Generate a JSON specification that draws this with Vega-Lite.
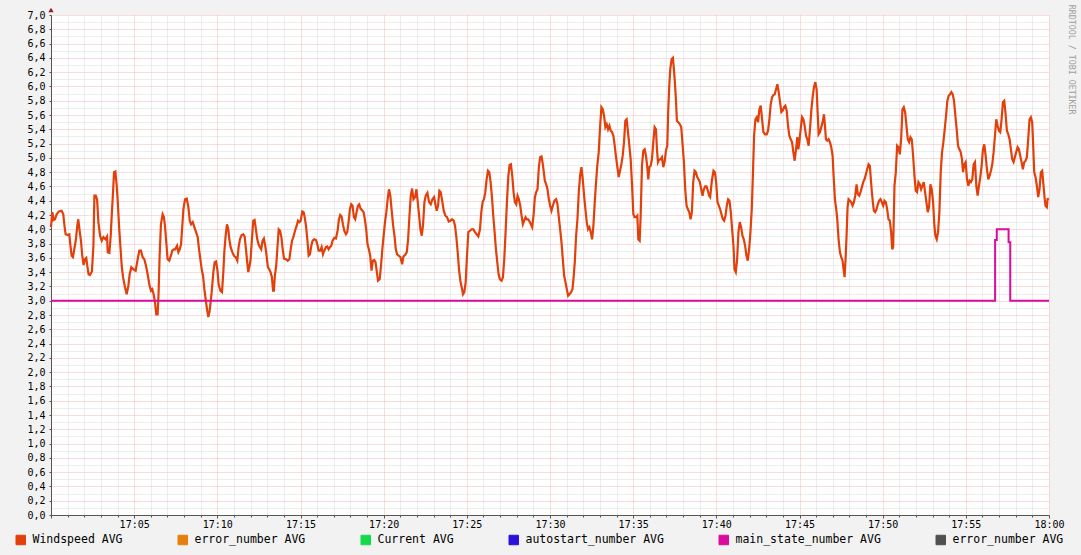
{
"$schema":"https://vega.github.io/schema/vega-lite/v6.json",
"width":998,"height":500,
"autosize":{"type":"none"},
"padding":{"left":51,"top":15,"right":32,"bottom":40},
"background":"#F2F2F2",
"config":{"view":{"fill":"white","stroke":null}},
"title":{"text":"RRDTOOL / TOBI OETIKER","orient":"right","anchor":"start","angle":90,"font":"DejaVu Sans Mono","fontSize":8.3,"fontWeight":"normal","color":"#A0A0A0","offset":4,"dx":-3},
"datasets":{
"wind":[
{"t":0,"v":4.03},{"t":0.08,"v":4.24},{"t":0.16,"v":4.13},{"t":0.24,"v":4.14},{"t":0.34,"v":4.21},{"t":0.48,"v":4.25},{"t":0.64,"v":4.26},{"t":0.74,"v":4.21},{"t":0.8,"v":4.07},{"t":0.88,"v":3.93},{"t":1.0,"v":3.92},{"t":1.1,"v":3.93},{"t":1.16,"v":3.79},{"t":1.24,"v":3.63},{"t":1.32,"v":3.61},{"t":1.4,"v":3.72},{"t":1.5,"v":3.86},{"t":1.58,"v":4.05},{"t":1.64,"v":4.14},{"t":1.72,"v":3.98},{"t":1.8,"v":3.84},{"t":1.88,"v":3.63},{"t":1.96,"v":3.5},{"t":2.04,"v":3.58},{"t":2.12,"v":3.6},{"t":2.18,"v":3.49},{"t":2.26,"v":3.37},{"t":2.34,"v":3.36},{"t":2.46,"v":3.41},{"t":2.55,"v":3.77},{"t":2.61,"v":4.47},{"t":2.69,"v":4.47},{"t":2.77,"v":4.42},{"t":2.85,"v":4.1},{"t":2.95,"v":3.91},{"t":3.05,"v":3.84},{"t":3.15,"v":3.89},{"t":3.27,"v":3.86},{"t":3.37,"v":3.9},{"t":3.41,"v":3.68},{"t":3.51,"v":3.67},{"t":3.59,"v":3.91},{"t":3.65,"v":4.19},{"t":3.73,"v":4.52},{"t":3.79,"v":4.8},{"t":3.87,"v":4.81},{"t":3.95,"v":4.61},{"t":4.01,"v":4.4},{"t":4.09,"v":4.05},{"t":4.17,"v":3.77},{"t":4.25,"v":3.49},{"t":4.33,"v":3.33},{"t":4.45,"v":3.19},{"t":4.55,"v":3.09},{"t":4.65,"v":3.21},{"t":4.73,"v":3.37},{"t":4.83,"v":3.47},{"t":4.95,"v":3.44},{"t":5.09,"v":3.42},{"t":5.21,"v":3.58},{"t":5.31,"v":3.7},{"t":5.41,"v":3.7},{"t":5.51,"v":3.61},{"t":5.61,"v":3.58},{"t":5.71,"v":3.49},{"t":5.81,"v":3.37},{"t":5.91,"v":3.23},{"t":6.01,"v":3.14},{"t":6.09,"v":3.16},{"t":6.17,"v":3.09},{"t":6.25,"v":2.98},{"t":6.33,"v":2.81},{"t":6.41,"v":2.81},{"t":6.47,"v":3.12},{"t":6.53,"v":3.63},{"t":6.61,"v":4.07},{"t":6.71,"v":4.21},{"t":6.79,"v":4.17},{"t":6.85,"v":4.05},{"t":6.93,"v":3.82},{"t":7.01,"v":3.58},{"t":7.11,"v":3.56},{"t":7.21,"v":3.63},{"t":7.29,"v":3.7},{"t":7.39,"v":3.72},{"t":7.47,"v":3.72},{"t":7.58,"v":3.77},{"t":7.66,"v":3.68},{"t":7.74,"v":3.72},{"t":7.82,"v":3.79},{"t":7.88,"v":4.0},{"t":7.96,"v":4.28},{"t":8.06,"v":4.42},{"t":8.16,"v":4.43},{"t":8.26,"v":4.31},{"t":8.34,"v":4.12},{"t":8.42,"v":4.07},{"t":8.52,"v":4.1},{"t":8.62,"v":4.03},{"t":8.72,"v":3.96},{"t":8.82,"v":3.89},{"t":8.9,"v":3.72},{"t":8.98,"v":3.58},{"t":9.06,"v":3.44},{"t":9.14,"v":3.35},{"t":9.22,"v":3.16},{"t":9.3,"v":3.02},{"t":9.38,"v":2.88},{"t":9.46,"v":2.77},{"t":9.54,"v":2.86},
{"t":9.66,"v":3.12},{"t":9.76,"v":3.4},{"t":9.84,"v":3.54},{"t":9.92,"v":3.55},{"t":10.0,"v":3.44},{"t":10.08,"v":3.23},{"t":10.18,"v":3.14},{"t":10.28,"v":3.12},{"t":10.36,"v":3.4},{"t":10.42,"v":3.68},{"t":10.5,"v":3.91},{"t":10.58,"v":4.07},{"t":10.66,"v":4.0},{"t":10.72,"v":3.86},{"t":10.8,"v":3.75},{"t":10.9,"v":3.68},{"t":11.0,"v":3.63},{"t":11.1,"v":3.61},{"t":11.2,"v":3.56},{"t":11.28,"v":3.75},{"t":11.36,"v":3.86},{"t":11.46,"v":3.92},{"t":11.56,"v":3.93},{"t":11.64,"v":3.9},{"t":11.7,"v":3.77},{"t":11.78,"v":3.58},{"t":11.86,"v":3.4},{"t":11.94,"v":3.49},{"t":12.0,"v":3.58},{"t":12.08,"v":3.86},{"t":12.16,"v":4.12},{"t":12.24,"v":4.13},{"t":12.32,"v":4.0},{"t":12.4,"v":3.86},{"t":12.48,"v":3.79},{"t":12.56,"v":3.75},{"t":12.64,"v":3.72},{"t":12.72,"v":3.84},{"t":12.8,"v":3.87},{"t":12.88,"v":3.77},{"t":12.96,"v":3.63},{"t":13.04,"v":3.47},{"t":13.12,"v":3.44},{"t":13.2,"v":3.4},{"t":13.28,"v":3.33},{"t":13.35,"v":3.14},{"t":13.4,"v":3.14},{"t":13.46,"v":3.35},{"t":13.54,"v":3.49},{"t":13.62,"v":3.77},{"t":13.69,"v":4.0},{"t":13.77,"v":3.98},{"t":13.85,"v":3.89},{"t":13.93,"v":3.72},{"t":14.01,"v":3.59},{"t":14.13,"v":3.58},{"t":14.23,"v":3.56},{"t":14.33,"v":3.58},{"t":14.41,"v":3.72},{"t":14.49,"v":3.84},{"t":14.57,"v":3.89},{"t":14.67,"v":3.98},{"t":14.77,"v":4.05},{"t":14.85,"v":4.12},{"t":14.93,"v":4.1},{"t":15.01,"v":4.12},{"t":15.11,"v":4.25},{"t":15.19,"v":4.24},{"t":15.25,"v":4.17},{"t":15.33,"v":4.05},{"t":15.41,"v":3.86},{"t":15.49,"v":3.63},{"t":15.57,"v":3.65},{"t":15.65,"v":3.77},{"t":15.73,"v":3.84},{"t":15.83,"v":3.86},{"t":15.93,"v":3.85},{"t":16.01,"v":3.79},{"t":16.09,"v":3.7},{"t":16.19,"v":3.7},{"t":16.27,"v":3.75},{"t":16.35,"v":3.65},{"t":16.43,"v":3.7},{"t":16.53,"v":3.75},{"t":16.61,"v":3.76},{"t":16.69,"v":3.72},{"t":16.77,"v":3.75},{"t":16.85,"v":3.77},{"t":16.93,"v":3.84},{"t":17.03,"v":3.88},{"t":17.13,"v":3.87},{"t":17.23,"v":3.98},{"t":17.31,"v":4.14},{"t":17.39,"v":4.2},{"t":17.47,"v":4.18},{"t":17.55,"v":4.07},{"t":17.63,"v":3.98},{"t":17.73,"v":3.93},{"t":17.81,"v":3.96},{"t":17.89,"v":4.1},{"t":17.97,"v":4.28},{"t":18.05,"v":4.35},{"t":18.13,"v":4.33},{"t":18.21,"v":4.17},{"t":18.29,"v":4.14},{"t":18.37,"v":4.24},{"t":18.45,"v":4.33},{"t":18.53,"v":4.35},{"t":18.61,"v":4.29},{"t":18.69,"v":4.27},{"t":18.79,"v":4.24},{"t":18.87,"v":4.14},{"t":18.95,"v":4.0},{"t":19.03,"v":3.79},{"t":19.11,"v":3.72},{"t":19.19,"v":3.63},{"t":19.27,"v":3.42},{"t":19.35,"v":3.56},{"t":19.43,"v":3.57},{"t":19.51,"v":3.54},{"t":19.59,"v":3.4},
{"t":19.66,"v":3.28},{"t":19.76,"v":3.3},{"t":19.84,"v":3.49},{"t":19.92,"v":3.72},{"t":20.0,"v":3.91},{"t":20.08,"v":4.1},{"t":20.16,"v":4.24},{"t":20.24,"v":4.42},{"t":20.32,"v":4.56},{"t":20.4,"v":4.47},{"t":20.49,"v":4.24},{"t":20.57,"v":4.05},{"t":20.65,"v":3.91},{"t":20.73,"v":3.72},{"t":20.81,"v":3.65},{"t":20.91,"v":3.63},{"t":21.01,"v":3.61},{"t":21.11,"v":3.51},{"t":21.19,"v":3.62},{"t":21.29,"v":3.64},{"t":21.39,"v":3.68},{"t":21.47,"v":3.86},{"t":21.55,"v":4.19},{"t":21.63,"v":4.47},{"t":21.71,"v":4.57},{"t":21.79,"v":4.42},{"t":21.89,"v":4.45},{"t":21.97,"v":4.56},{"t":22.05,"v":4.38},{"t":22.13,"v":4.19},{"t":22.21,"v":4.0},{"t":22.29,"v":3.91},{"t":22.37,"v":4.07},{"t":22.45,"v":4.38},{"t":22.53,"v":4.47},{"t":22.63,"v":4.51},{"t":22.73,"v":4.38},{"t":22.83,"v":4.35},{"t":22.93,"v":4.42},{"t":23.03,"v":4.45},{"t":23.11,"v":4.35},{"t":23.19,"v":4.26},{"t":23.27,"v":4.33},{"t":23.35,"v":4.54},{"t":23.43,"v":4.52},{"t":23.53,"v":4.38},{"t":23.61,"v":4.26},{"t":23.71,"v":4.19},{"t":23.81,"v":4.17},{"t":23.91,"v":4.11},{"t":24.01,"v":4.12},{"t":24.11,"v":4.14},{"t":24.21,"v":4.12},{"t":24.29,"v":4.05},{"t":24.37,"v":3.89},{"t":24.45,"v":3.68},{"t":24.53,"v":3.44},{"t":24.61,"v":3.28},{"t":24.69,"v":3.19},{"t":24.77,"v":3.09},{"t":24.85,"v":3.12},{"t":24.93,"v":3.26},{"t":25.01,"v":3.63},{"t":25.09,"v":3.96},{"t":25.19,"v":3.98},{"t":25.29,"v":4.0},{"t":25.39,"v":4.0},{"t":25.49,"v":3.96},{"t":25.59,"v":3.93},{"t":25.69,"v":3.9},{"t":25.79,"v":4.0},{"t":25.87,"v":4.24},{"t":25.95,"v":4.38},{"t":26.03,"v":4.42},{"t":26.11,"v":4.52},{"t":26.19,"v":4.7},{"t":26.27,"v":4.82},{"t":26.35,"v":4.8},{"t":26.43,"v":4.66},{"t":26.51,"v":4.45},{"t":26.59,"v":4.19},{"t":26.67,"v":3.96},{"t":26.75,"v":3.72},{"t":26.83,"v":3.54},{"t":26.91,"v":3.37},{"t":26.99,"v":3.3},{"t":27.09,"v":3.28},{"t":27.17,"v":3.33},{"t":27.25,"v":3.58},{"t":27.33,"v":3.96},{"t":27.41,"v":4.38},{"t":27.49,"v":4.73},{"t":27.57,"v":4.9},{"t":27.65,"v":4.91},{"t":27.73,"v":4.75},{"t":27.81,"v":4.52},{"t":27.89,"v":4.38},{"t":27.97,"v":4.35},{"t":28.05,"v":4.47},{"t":28.13,"v":4.42},{"t":28.21,"v":4.33},{"t":28.29,"v":4.19},{"t":28.37,"v":4.07},{"t":28.45,"v":4.12},{"t":28.53,"v":4.17},{"t":28.61,"v":4.14},{"t":28.69,"v":4.14},{"t":28.77,"v":4.11},{"t":28.85,"v":4.07},{"t":28.93,"v":4.03},{"t":29.01,"v":4.19},{"t":29.09,"v":4.45},{"t":29.17,"v":4.52},{"t":29.25,"v":4.56},{"t":29.33,"v":4.87},{"t":29.41,"v":5.01},{"t":29.49,"v":5.02},{"t":29.57,"v":4.91},
{"t":29.69,"v":4.68},{"t":29.77,"v":4.63},{"t":29.85,"v":4.56},{"t":29.93,"v":4.42},{"t":30.01,"v":4.33},{"t":30.09,"v":4.26},{"t":30.17,"v":4.33},{"t":30.27,"v":4.4},{"t":30.37,"v":4.42},{"t":30.45,"v":4.35},{"t":30.53,"v":4.17},{"t":30.61,"v":4.0},{"t":30.69,"v":3.82},{"t":30.77,"v":3.58},{"t":30.85,"v":3.35},{"t":30.93,"v":3.26},{"t":31.01,"v":3.16},{"t":31.09,"v":3.07},{"t":31.17,"v":3.09},{"t":31.27,"v":3.12},{"t":31.35,"v":3.16},{"t":31.41,"v":3.3},{"t":31.49,"v":3.54},{"t":31.57,"v":3.91},{"t":31.65,"v":4.14},{"t":31.73,"v":4.52},{"t":31.81,"v":4.75},{"t":31.89,"v":4.87},{"t":31.97,"v":4.7},{"t":32.05,"v":4.47},{"t":32.13,"v":4.28},{"t":32.21,"v":4.1},{"t":32.29,"v":4.0},{"t":32.37,"v":4.03},{"t":32.45,"v":3.96},{"t":32.53,"v":3.86},{"t":32.61,"v":4.05},{"t":32.69,"v":4.38},{"t":32.77,"v":4.66},{"t":32.85,"v":4.91},{"t":32.93,"v":5.08},{"t":33.01,"v":5.43},{"t":33.09,"v":5.71},{"t":33.17,"v":5.68},{"t":33.25,"v":5.59},{"t":33.33,"v":5.43},{"t":33.41,"v":5.47},{"t":33.49,"v":5.4},{"t":33.57,"v":5.45},{"t":33.65,"v":5.38},{"t":33.73,"v":5.36},{"t":33.81,"v":5.31},{"t":33.89,"v":5.17},{"t":33.97,"v":5.01},{"t":34.05,"v":4.87},{"t":34.13,"v":4.73},{"t":34.21,"v":4.82},{"t":34.29,"v":4.91},{"t":34.37,"v":5.03},{"t":34.45,"v":5.22},{"t":34.53,"v":5.52},{"t":34.61,"v":5.54},{"t":34.69,"v":5.36},{"t":34.77,"v":5.17},{"t":34.85,"v":4.98},{"t":34.93,"v":4.63},{"t":35.01,"v":4.21},{"t":35.09,"v":4.17},{"t":35.17,"v":4.17},{"t":35.25,"v":4.19},{"t":35.31,"v":3.86},{"t":35.39,"v":3.84},{"t":35.45,"v":4.19},{"t":35.53,"v":4.89},{"t":35.61,"v":5.1},{"t":35.69,"v":5.12},{"t":35.77,"v":5.03},{"t":35.85,"v":4.87},{"t":35.91,"v":4.7},{"t":35.97,"v":4.87},{"t":36.05,"v":4.89},{"t":36.13,"v":4.98},{"t":36.21,"v":5.22},{"t":36.29,"v":5.43},{"t":36.37,"v":5.4},{"t":36.43,"v":5.12},{"t":36.49,"v":4.94},{"t":36.57,"v":4.98},{"t":36.65,"v":4.98},{"t":36.73,"v":5.01},{"t":36.81,"v":4.87},{"t":36.89,"v":4.94},{"t":36.97,"v":5.1},{"t":37.05,"v":5.17},{"t":37.11,"v":5.68},{"t":37.17,"v":6.01},{"t":37.23,"v":6.24},{"t":37.31,"v":6.38},{"t":37.39,"v":6.4},{"t":37.45,"v":6.24},{"t":37.51,"v":6.05},{"t":37.57,"v":5.82},{"t":37.63,"v":5.52},{"t":37.71,"v":5.5},{"t":37.81,"v":5.47},{"t":37.89,"v":5.43},{"t":37.97,"v":5.19},{"t":38.05,"v":4.94},{"t":38.13,"v":4.56},{"t":38.21,"v":4.33},{"t":38.29,"v":4.28},{"t":38.37,"v":4.24},{"t":38.45,"v":4.14},{"t":38.53,"v":4.24},{"t":38.61,"v":4.66},{"t":38.69,"v":4.82},{"t":38.77,"v":4.8},{"t":38.85,"v":4.73},{"t":38.93,"v":4.7},{"t":39.01,"v":4.66},{"t":39.09,"v":4.56},{"t":39.17,"v":4.47},{"t":39.25,"v":4.56},{"t":39.33,"v":4.6},{"t":39.41,"v":4.6},{"t":39.49,"v":4.54},{"t":39.57,"v":4.47},
{"t":39.63,"v":4.45},{"t":39.73,"v":4.68},{"t":39.83,"v":4.82},{"t":39.91,"v":4.8},{"t":39.99,"v":4.66},{"t":40.07,"v":4.38},{"t":40.15,"v":4.33},{"t":40.23,"v":4.28},{"t":40.31,"v":4.21},{"t":40.39,"v":4.14},{"t":40.47,"v":4.12},{"t":40.55,"v":4.19},{"t":40.63,"v":4.33},{"t":40.71,"v":4.42},{"t":40.79,"v":4.4},{"t":40.87,"v":4.24},{"t":40.95,"v":4.0},{"t":41.03,"v":3.77},{"t":41.09,"v":3.44},{"t":41.17,"v":3.4},{"t":41.25,"v":3.58},{"t":41.33,"v":3.96},{"t":41.41,"v":4.1},{"t":41.49,"v":4.03},{"t":41.57,"v":3.91},{"t":41.65,"v":3.86},{"t":41.73,"v":3.77},{"t":41.81,"v":3.63},{"t":41.89,"v":3.56},{"t":41.97,"v":3.72},{"t":42.05,"v":3.96},{"t":42.13,"v":4.28},{"t":42.19,"v":4.7},{"t":42.27,"v":5.31},{"t":42.35,"v":5.54},{"t":42.43,"v":5.57},{"t":42.51,"v":5.5},{"t":42.59,"v":5.68},{"t":42.67,"v":5.73},{"t":42.75,"v":5.54},{"t":42.83,"v":5.36},{"t":42.93,"v":5.33},{"t":43.03,"v":5.33},{"t":43.11,"v":5.38},{"t":43.19,"v":5.54},{"t":43.27,"v":5.75},{"t":43.35,"v":5.85},{"t":43.43,"v":5.88},{"t":43.51,"v":5.89},{"t":43.59,"v":5.96},{"t":43.67,"v":6.03},{"t":43.75,"v":5.92},{"t":43.83,"v":5.78},{"t":43.91,"v":5.64},{"t":43.99,"v":5.66},{"t":44.07,"v":5.71},{"t":44.15,"v":5.73},{"t":44.23,"v":5.66},{"t":44.31,"v":5.45},{"t":44.39,"v":5.31},{"t":44.47,"v":5.26},{"t":44.55,"v":5.22},{"t":44.63,"v":5.08},{"t":44.71,"v":4.96},{"t":44.79,"v":5.12},{"t":44.87,"v":5.29},{"t":44.93,"v":5.12},{"t":44.99,"v":5.22},{"t":45.07,"v":5.4},{"t":45.15,"v":5.57},{"t":45.23,"v":5.54},{"t":45.31,"v":5.45},{"t":45.39,"v":5.31},{"t":45.47,"v":5.26},{"t":45.55,"v":5.17},{"t":45.63,"v":5.4},{"t":45.71,"v":5.66},{"t":45.79,"v":5.85},{"t":45.87,"v":5.99},{"t":45.95,"v":6.06},{"t":46.03,"v":5.96},{"t":46.09,"v":5.64},{"t":46.15,"v":5.33},{"t":46.23,"v":5.36},{"t":46.31,"v":5.43},{"t":46.39,"v":5.5},{"t":46.47,"v":5.61},{"t":46.53,"v":5.45},{"t":46.59,"v":5.26},{"t":46.67,"v":5.24},{"t":46.75,"v":5.26},{"t":46.83,"v":5.22},{"t":46.91,"v":5.15},{"t":46.99,"v":5.03},{"t":47.05,"v":4.75},{"t":47.13,"v":4.42},{"t":47.21,"v":4.28},{"t":47.27,"v":4.14},{"t":47.35,"v":3.86},{"t":47.43,"v":3.68},{"t":47.51,"v":3.61},{"t":47.59,"v":3.56},{"t":47.65,"v":3.44},{"t":47.71,"v":3.33},{"t":47.77,"v":3.58},{"t":47.83,"v":3.91},{"t":47.89,"v":4.31},{"t":47.95,"v":4.42},{"t":48.03,"v":4.4},{"t":48.11,"v":4.38},{"t":48.19,"v":4.33},{"t":48.27,"v":4.38},{"t":48.35,"v":4.47},{"t":48.43,"v":4.63},{"t":48.51,"v":4.49},{"t":48.59,"v":4.47},{"t":48.67,"v":4.52},{"t":48.75,"v":4.59},{"t":48.83,"v":4.66},{"t":48.91,"v":4.7},{"t":48.99,"v":4.77},{"t":49.07,"v":4.84},{"t":49.15,"v":4.91},{"t":49.23,"v":4.89},{"t":49.29,"v":4.7},{"t":49.35,"v":4.52},{"t":49.41,"v":4.38},{"t":49.47,"v":4.26},{"t":49.55,"v":4.24},{"t":49.63,"v":4.28},{"t":49.71,"v":4.35},{"t":49.79,"v":4.4},{"t":49.87,"v":4.42},{"t":49.95,"v":4.38},{"t":50.03,"v":4.33},{"t":50.11,"v":4.4},{"t":50.19,"v":4.38},{"t":50.27,"v":4.28},{"t":50.35,"v":4.14},{"t":50.43,"v":4.12},{"t":50.51,"v":3.96},{"t":50.57,"v":3.72},{"t":50.63,"v":3.75},{"t":50.71,"v":4.61},{"t":50.79,"v":4.8},{"t":50.87,"v":5.17},{"t":50.95,"v":5.15},{"t":51.03,"v":5.05},{"t":51.11,"v":5.26},{"t":51.19,"v":5.68},{"t":51.27,"v":5.71},{"t":51.35,"v":5.64},{"t":51.43,"v":5.45},{"t":51.51,"v":5.26},{"t":51.59,"v":5.22},{"t":51.67,"v":5.29},{"t":51.75,"v":5.26},{"t":51.83,"v":5.03},{"t":51.91,"v":4.75},{"t":51.99,"v":4.54},{"t":52.07,"v":4.52},{"t":52.15,"v":4.66},{"t":52.23,"v":4.63},{"t":52.31,"v":4.56},{"t":52.39,"v":4.61},{"t":52.47,"v":4.66},{"t":52.55,"v":4.52},{"t":52.63,"v":4.38},{"t":52.71,"v":4.24},{"t":52.79,"v":4.31},{"t":52.87,"v":4.63},{"t":52.95,"v":4.56},{"t":53.03,"v":4.38},{"t":53.11,"v":4.05},{"t":53.17,"v":3.91},{"t":53.25,"v":3.86},{"t":53.33,"v":3.96},{"t":53.41,"v":4.24},{"t":53.49,"v":4.8},{"t":53.57,"v":5.08},{"t":53.65,"v":5.22},{"t":53.73,"v":5.4},{"t":53.81,"v":5.59},{"t":53.89,"v":5.8},{"t":53.97,"v":5.87},{"t":54.05,"v":5.89},{"t":54.13,"v":5.92},{"t":54.21,"v":5.89},{"t":54.29,"v":5.8},{"t":54.37,"v":5.59},{"t":54.45,"v":5.4},{"t":54.53,"v":5.17},{"t":54.61,"v":5.12},{"t":54.69,"v":5.08},{"t":54.77,"v":4.98},{"t":54.83,"v":4.8},{"t":54.91,"v":4.91},{"t":54.99,"v":4.94},{"t":55.07,"v":4.7},{"t":55.15,"v":4.61},{"t":55.23,"v":4.68},{"t":55.31,"v":4.66},{"t":55.39,"v":4.7},{"t":55.47,"v":4.91},{"t":55.55,"v":4.94},{"t":55.63,"v":4.61},{"t":55.71,"v":4.47},{"t":55.79,"v":4.61},{"t":55.87,"v":4.73},{"t":55.95,"v":4.89},{"t":56.03,"v":5.12},{"t":56.11,"v":5.19},{"t":56.19,"v":5.03},{"t":56.27,"v":4.84},{"t":56.35,"v":4.7},{"t":56.43,"v":4.75},{"t":56.51,"v":4.82},{"t":56.59,"v":4.91},{"t":56.67,"v":5.08},{"t":56.75,"v":5.31},{"t":56.83,"v":5.54},{"t":56.91,"v":5.45},{"t":56.99,"v":5.38},{"t":57.07,"v":5.36},{"t":57.15,"v":5.54},{"t":57.23,"v":5.78},{"t":57.31,"v":5.8},{"t":57.39,"v":5.61},{"t":57.47,"v":5.38},{"t":57.55,"v":5.33},{"t":57.63,"v":5.26},{"t":57.71,"v":5.12},{"t":57.79,"v":4.98},{"t":57.87,"v":4.94},{"t":57.95,"v":5.01},{"t":58.03,"v":5.08},{"t":58.11,"v":5.15},{"t":58.19,"v":5.12},{"t":58.27,"v":5.03},{"t":58.35,"v":4.94},{"t":58.43,"v":4.84},{"t":58.51,"v":4.94},{"t":58.59,"v":4.96},{"t":58.67,"v":5.01},{"t":58.75,"v":5.26},{"t":58.83,"v":5.54},{"t":58.91,"v":5.57},{"t":58.99,"v":5.5},{"t":59.05,"v":5.17},{"t":59.11,"v":4.8},{"t":59.19,"v":4.73},{"t":59.27,"v":4.61},{"t":59.35,"v":4.45},{"t":59.43,"v":4.56},{"t":59.51,"v":4.8},{"t":59.59,"v":4.82},{"t":59.67,"v":4.61},{"t":59.73,"v":4.45},{"t":59.79,"v":4.33},{"t":59.87,"v":4.31},{"t":59.91,"v":4.42},{"t":59.99,"v":4.43}
],
"state":[{"t":0,"v":3},{"t":56.76,"v":3.85},{"t":56.86,"v":4},{"t":57.57,"v":3.82},{"t":57.67,"v":3},{"t":60,"v":3}]
},
"layer":[
{"data":{"name":"wind"},
 "mark":{"type":"line","strokeWidth":2.2,"interpolate":"linear"},
 "encoding":{
  "x":{"field":"t","type":"quantitative","scale":{"domain":[0,60],"nice":false,"zero":false},
   "axis":{"values":[0,1,2,3,4,5,6,7,8,9,10,11,12,13,14,15,16,17,18,19,20,21,22,23,24,25,26,27,28,29,30,31,32,33,34,35,36,37,38,39,40,41,42,43,44,45,46,47,48,49,50,51,52,53,54,55,56,57,58,59,60],"tickCount":1000,
    "labelExpr":"datum.value % 5 == 0 && datum.value > 0 ? (datum.value == 60 ? '18:00' : '17:' + (datum.value < 10 ? '0' : '') + datum.value) : ''",
    "grid":true,"gridColor":{"condition":{"test":"datum.value % 5 == 0","value":"#F4B8B8"},"value":"#DADADA"},"gridDash":[1,1],"gridWidth":1,
    "domainColor":"#555555","tickColor":"#555555","tickSize":{"condition":{"test":"datum.value % 5 == 0","value":3},"value":2},
    "labelFont":"DejaVu Sans Mono","labelFontSize":10,"labelColor":"#000000","labelPadding":1,"labelOverlap":false,"labelFlush":false,"title":null}},
  "y":{"field":"v","type":"quantitative","scale":{"domain":[0,7],"nice":false},
   "axis":{"values":[0,0.1,0.2,0.3,0.4,0.5,0.6,0.7,0.8,0.9,1,1.1,1.2,1.3,1.4,1.5,1.6,1.7,1.8,1.9,2,2.1,2.2,2.3,2.4,2.5,2.6,2.7,2.8,2.9,3,3.1,3.2,3.3,3.4,3.5,3.6,3.7,3.8,3.9,4,4.1,4.2,4.3,4.4,4.5,4.6,4.7,4.8,4.9,5,5.1,5.2,5.3,5.4,5.5,5.6,5.7,5.8,5.9,6,6.1,6.2,6.3,6.4,6.5,6.6,6.7,6.8,6.9,7],"tickCount":1000,
    "labelExpr":"round(datum.value*10) % 2 == 0 ? replace(format(datum.value, '.1f'), '.', ',') : ''",
    "grid":true,"gridColor":{"condition":{"test":"round(datum.value*10) % 2 == 0","value":"#F4B8B8"},"value":"#DADADA"},"gridDash":[1,1],"gridWidth":1,
    "domainColor":"#555555","tickColor":"#555555","tickSize":{"condition":{"test":"round(datum.value*10) % 2 == 0","value":2},"value":0},
    "labelFont":"DejaVu Sans Mono","labelFontSize":10,"labelColor":"#000000","labelPadding":4,"labelOverlap":false,"labelFlush":false,"title":null}},
  "color":{"datum":"Windspeed AVG","type":"nominal",
   "scale":{"domain":["Windspeed AVG","error_number AVG","Current AVG","autostart_number AVG","main_state_number AVG","error_number AVG (2)"],"range":["#E23F0A","#E5800C","#14D94A","#2A12DB","#DD0A9E","#505050"]},
   "legend":{"orient":"none","legendX":-36,"legendY":519,"direction":"horizontal","columns":6,"columnPadding":53,"symbolType":"square","symbolSize":90,"symbolStrokeWidth":1,"labelFont":"DejaVu Sans Mono","labelFontSize":11.5,"labelColor":"#000000","labelOffset":6,"labelLimit":0,"title":null,
    "labelExpr":"datum.label == 'error_number AVG (2)' ? 'error_number AVG' : datum.label",
    "encode":{"symbols":{"update":{"fill":{"scale":"color","field":"value"},"fillOpacity":{"value":1},"stroke":{"value":"#000000"},"strokeWidth":{"value":1}}}}}}
 }},
{"data":{"name":"state"},
 "mark":{"type":"line","strokeWidth":2,"interpolate":"step-after"},
 "encoding":{"x":{"field":"t","type":"quantitative"},"y":{"field":"v","type":"quantitative"},"color":{"datum":"main_state_number AVG","type":"nominal"}}},
{"data":{"values":[{}]},
 "mark":{"type":"point","shape":"triangle-up","filled":true,"size":28,"color":"#9A1C1C","opacity":1,"yOffset":-5},
 "encoding":{"x":{"datum":0,"type":"quantitative"},"y":{"datum":7,"type":"quantitative"}}}
]
}
